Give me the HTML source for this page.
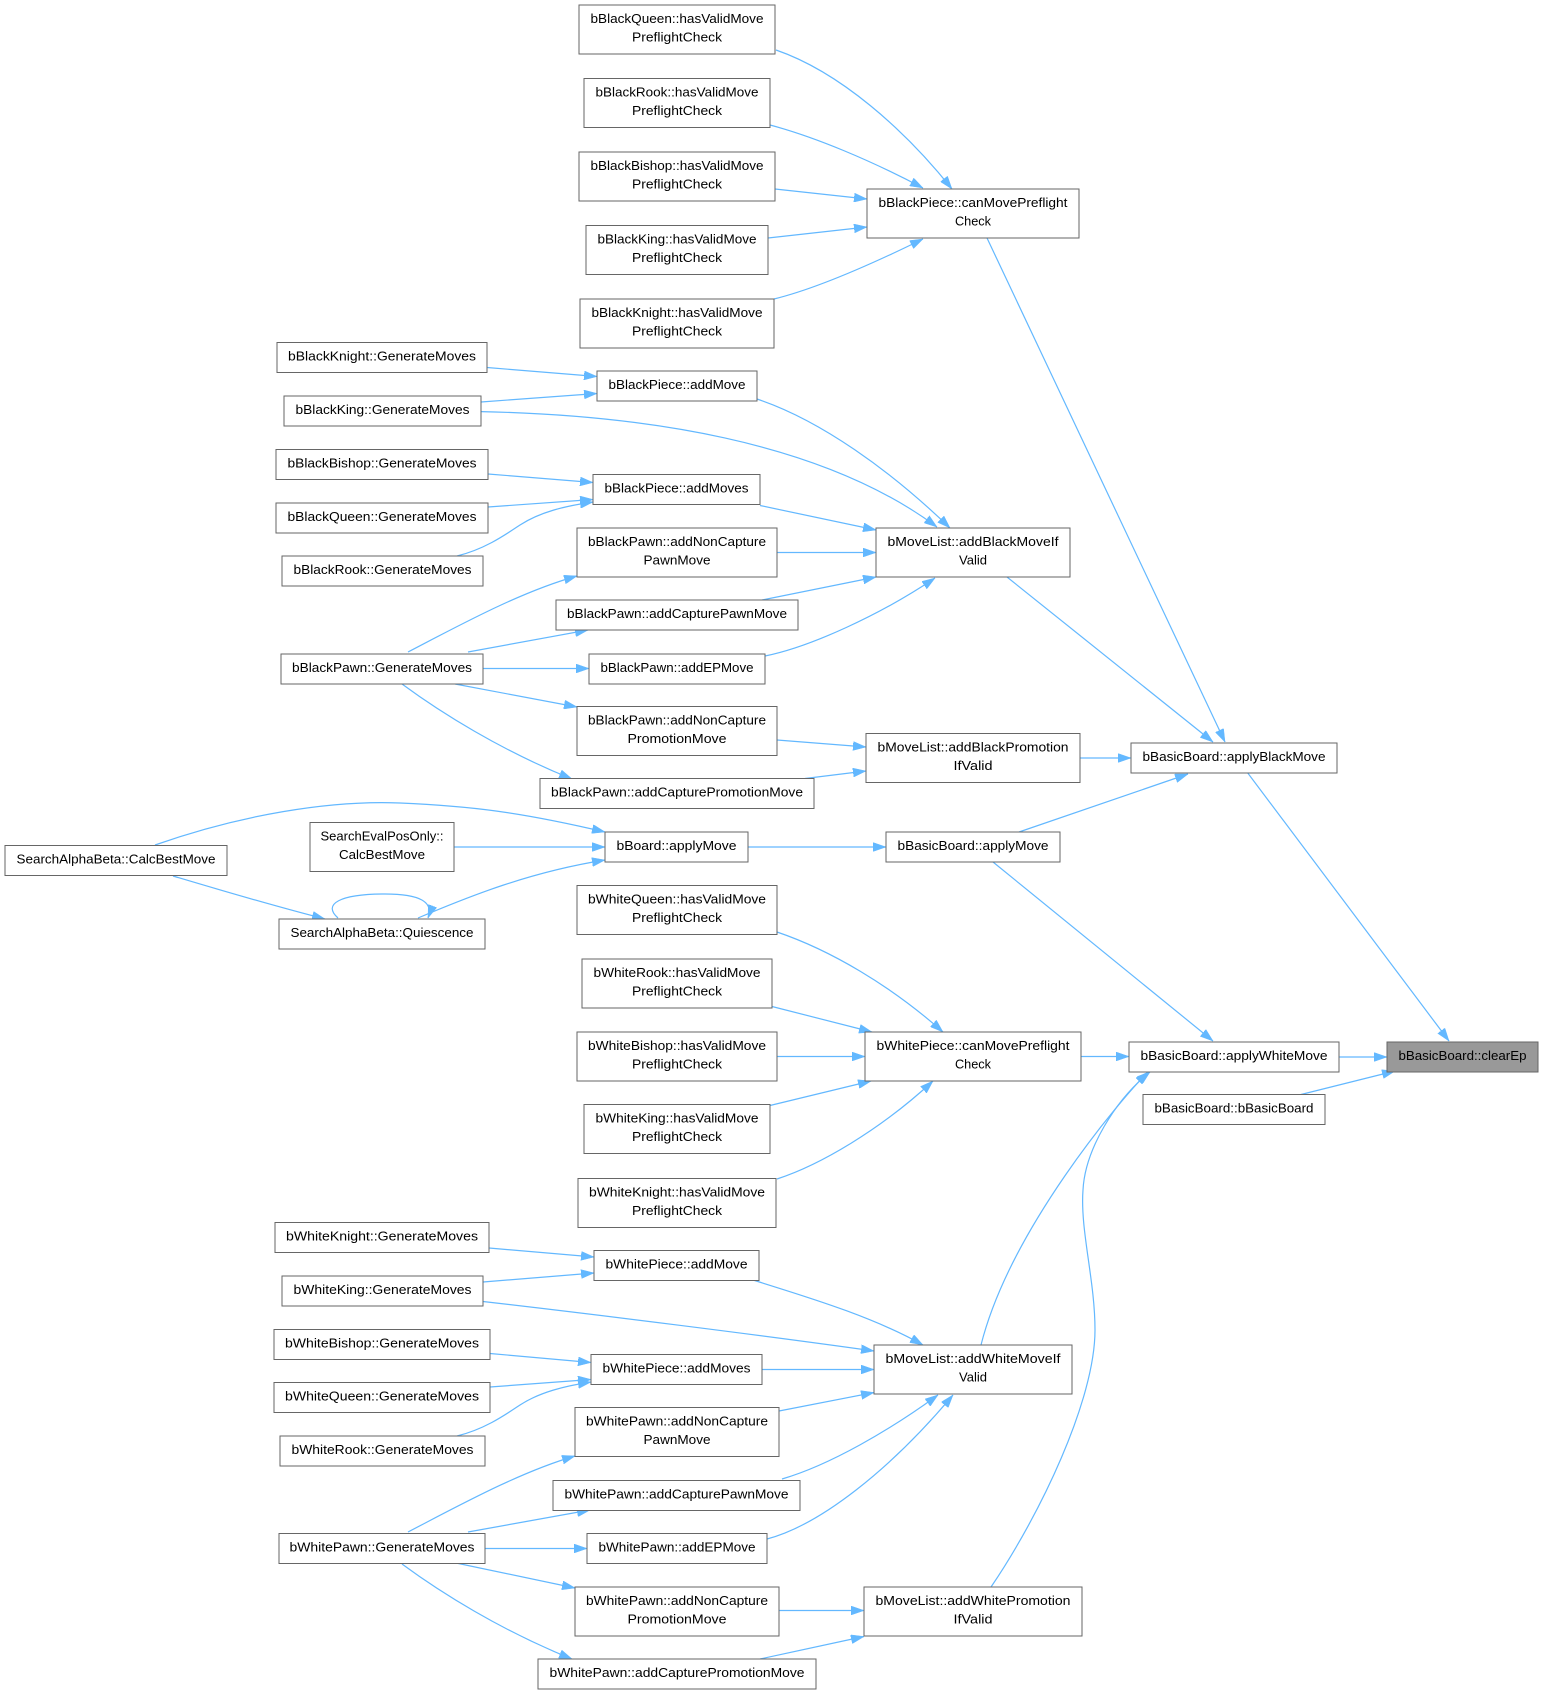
<!DOCTYPE html>
<html>
<head>
<meta charset="utf-8">
<style>
  html, body { margin:0; padding:0; background:#ffffff; }
  svg { display:block; }
  .n rect { fill:#ffffff; stroke:#666666; stroke-width:1; }
  .n text { font-family:"Liberation Sans", "DejaVu Sans", sans-serif; font-size:12.5px; fill:#000000; text-anchor:middle; }
  .e { fill:none; stroke:#63b8ff; stroke-width:1.2; marker-end:url(#ah); }
</style>
</head>
<body>
<svg width="1543" height="1694" viewBox="0 0 1543 1694" xmlns="http://www.w3.org/2000/svg">
<defs>
  <marker id="ah" viewBox="0 0 13 9" refX="13" refY="4.5" markerWidth="13" markerHeight="9" markerUnits="userSpaceOnUse" orient="auto">
    <path d="M0,0 L13,4.5 L0,9 z" fill="#63b8ff" stroke="#63b8ff" stroke-width="0.5"/>
  </marker>
</defs>
<rect x="0" y="0" width="1543" height="1694" fill="#ffffff"/>

<!-- ===== EDGES ===== -->
<g>
<!-- black preflight -->
<path class="e" d="M776,50 C840,72 905,130 952,189"/>
<path class="e" d="M770,125 C815,137 870,160 923,188"/>
<path class="e" d="M775,189 L867,199"/>
<path class="e" d="M768,238 L867,227"/>
<path class="e" d="M774,299 C815,289 870,265 923,239"/>
<!-- to applyBlackMove -->
<path class="e" d="M987,238 L1225,742"/>
<path class="e" d="M1007,577 L1213,742"/>
<path class="e" d="M1080,758 L1131,758"/>
<path class="e" d="M1019,832 L1188,774"/>
<!-- to clearEp -->
<path class="e" d="M1247,772 L1449,1041"/>
<path class="e" d="M1339,1057 L1387,1057"/>
<path class="e" d="M1301,1094.5 L1395,1071"/>
<!-- to applyWhiteMove -->
<path class="e" d="M993,862 L1213,1041"/>
<path class="e" d="M1081,1056.5 L1129,1056.5"/>
<path class="e" d="M981,1345 C1010,1230 1120,1100 1148,1072"/>
<path class="e" d="M991,1587 C1040,1515 1095,1400 1095,1330 C1095,1280 1080,1230 1083,1190 C1085,1150 1115,1100 1150,1072"/>
<!-- white preflight -->
<path class="e" d="M777,932 C830,950 890,985 943,1032"/>
<path class="e" d="M772,1006.5 L872,1032"/>
<path class="e" d="M777,1056.5 L865,1056.5"/>
<path class="e" d="M770,1105.5 L871,1081"/>
<path class="e" d="M777,1179 C820,1165 880,1130 933,1081"/>
<!-- black addMove / addMoves -->
<path class="e" d="M487,367.5 L597,376.5"/>
<path class="e" d="M481,402 L597,393.5"/>
<path class="e" d="M488,474 L593,482.5"/>
<path class="e" d="M488,507 L593,499.5"/>
<path class="e" d="M457,556 C485,549 505,535 520,525 C540,512 565,506 593,502"/>
<!-- into addBlackMoveIfValid -->
<path class="e" d="M757,399 C820,420 890,470 950,528"/>
<path class="e" d="M481,411.6 C640,415 820,440 937,527"/>
<path class="e" d="M760,505.5 L876,530"/>
<path class="e" d="M777,552.5 L876,552.5"/>
<path class="e" d="M762,600 L876,577"/>
<path class="e" d="M765,656 C810,647 880,615 935,578"/>
<!-- black pawn generate -->
<path class="e" d="M408,652 C460,625 520,592 577,576"/>
<path class="e" d="M468,652 L588,630"/>
<path class="e" d="M483,668.5 L589,668.5"/>
<path class="e" d="M455,684 L577,707"/>
<path class="e" d="M402,684 C440,712 500,750 572,779"/>
<!-- into addBlackPromotionIfValid -->
<path class="e" d="M777,740 L866,747"/>
<path class="e" d="M805,778.5 L866,771"/>
<!-- search -->
<path class="e" d="M155,845 C240,815 330,800 400,803 C470,806 520,812 605,832"/>
<path class="e" d="M454,847 L605,847"/>
<path class="e" d="M418,918 C470,896 530,872 605,860"/>
<path class="e" d="M173,876 C220,890 270,905 325,919"/>
<path class="e" d="M338,918 C322,904 340,894 385,894 C420,894 434,902 428,918"/>
<path class="e" d="M748,847 L886,847"/>
<!-- white addMove / addMoves -->
<path class="e" d="M489,1248 L594,1257"/>
<path class="e" d="M483,1282 L594,1273"/>
<path class="e" d="M490,1353.5 L591,1362.5"/>
<path class="e" d="M490,1387 L591,1379.5"/>
<path class="e" d="M457,1436 C485,1429 505,1415 520,1405 C540,1392 565,1386 591,1382"/>
<!-- into addWhiteMoveIfValid -->
<path class="e" d="M753,1280 C800,1295 870,1315 923,1345"/>
<path class="e" d="M483,1301.5 C600,1315 760,1335 874,1351"/>
<path class="e" d="M762,1369.5 L874,1369.5"/>
<path class="e" d="M779,1411 L874,1392.5"/>
<path class="e" d="M782,1479 C830,1465 890,1430 938,1395"/>
<path class="e" d="M767,1539 C820,1525 890,1470 953,1395"/>
<!-- into addWhitePromotionIfValid -->
<path class="e" d="M779,1610.5 L864,1610.5"/>
<path class="e" d="M760,1659 L864,1636.5"/>
<!-- white pawn generate -->
<path class="e" d="M408,1532 C460,1505 520,1472 575,1456"/>
<path class="e" d="M468,1532 L590,1510"/>
<path class="e" d="M485,1548.5 L587,1548.5"/>
<path class="e" d="M456,1563 L575,1588"/>
<path class="e" d="M402,1564 C440,1592 500,1630 572,1659"/>
</g>

<!-- ===== NODES ===== -->
<g class="n">
<rect x="579" y="5" width="196" height="49"/>
<text x="677" y="23" textLength="173" lengthAdjust="spacingAndGlyphs">bBlackQueen::hasValidMove</text>
<text x="677" y="41.5" textLength="90" lengthAdjust="spacingAndGlyphs">PreflightCheck</text>

<rect x="584" y="78.5" width="186" height="49"/>
<text x="677" y="96.5" textLength="163" lengthAdjust="spacingAndGlyphs">bBlackRook::hasValidMove</text>
<text x="677" y="115" textLength="90" lengthAdjust="spacingAndGlyphs">PreflightCheck</text>

<rect x="579" y="152" width="196" height="49"/>
<text x="677" y="170" textLength="173" lengthAdjust="spacingAndGlyphs">bBlackBishop::hasValidMove</text>
<text x="677" y="188.5" textLength="90" lengthAdjust="spacingAndGlyphs">PreflightCheck</text>

<rect x="586" y="225.5" width="182" height="49"/>
<text x="677" y="243.5" textLength="159" lengthAdjust="spacingAndGlyphs">bBlackKing::hasValidMove</text>
<text x="677" y="262" textLength="90" lengthAdjust="spacingAndGlyphs">PreflightCheck</text>

<rect x="580" y="299" width="194" height="49"/>
<text x="677" y="317" textLength="171" lengthAdjust="spacingAndGlyphs">bBlackKnight::hasValidMove</text>
<text x="677" y="335.5" textLength="90" lengthAdjust="spacingAndGlyphs">PreflightCheck</text>

<rect x="867" y="189" width="212" height="49"/>
<text x="973" y="207" textLength="189" lengthAdjust="spacingAndGlyphs">bBlackPiece::canMovePreflight</text>
<text x="973" y="225.5" textLength="36" lengthAdjust="spacingAndGlyphs">Check</text>

<rect x="277" y="342.5" width="210" height="30"/>
<text x="382" y="360.5" textLength="188" lengthAdjust="spacingAndGlyphs">bBlackKnight::GenerateMoves</text>

<rect x="597" y="371" width="160" height="30"/>
<text x="677" y="389" textLength="137" lengthAdjust="spacingAndGlyphs">bBlackPiece::addMove</text>

<rect x="284" y="396" width="197" height="30"/>
<text x="382.5" y="414" textLength="174" lengthAdjust="spacingAndGlyphs">bBlackKing::GenerateMoves</text>

<rect x="276" y="449.5" width="212" height="30"/>
<text x="382" y="467.5" textLength="189" lengthAdjust="spacingAndGlyphs">bBlackBishop::GenerateMoves</text>

<rect x="593" y="474.5" width="167" height="30"/>
<text x="676.5" y="492.5" textLength="144" lengthAdjust="spacingAndGlyphs">bBlackPiece::addMoves</text>

<rect x="276" y="503" width="212" height="30"/>
<text x="382" y="521" textLength="189" lengthAdjust="spacingAndGlyphs">bBlackQueen::GenerateMoves</text>

<rect x="577" y="528" width="200" height="49"/>
<text x="677" y="546" textLength="178" lengthAdjust="spacingAndGlyphs">bBlackPawn::addNonCapture</text>
<text x="677" y="564.5" textLength="67" lengthAdjust="spacingAndGlyphs">PawnMove</text>

<rect x="876" y="528" width="194" height="49"/>
<text x="973" y="546" textLength="171" lengthAdjust="spacingAndGlyphs">bMoveList::addBlackMoveIf</text>
<text x="973" y="564.5" textLength="28" lengthAdjust="spacingAndGlyphs">Valid</text>

<rect x="282" y="556" width="201" height="30"/>
<text x="382.5" y="574" textLength="178" lengthAdjust="spacingAndGlyphs">bBlackRook::GenerateMoves</text>

<rect x="556" y="600" width="242" height="30"/>
<text x="677" y="618" textLength="220" lengthAdjust="spacingAndGlyphs">bBlackPawn::addCapturePawnMove</text>

<rect x="281" y="654" width="202" height="30"/>
<text x="382" y="672" textLength="180" lengthAdjust="spacingAndGlyphs">bBlackPawn::GenerateMoves</text>

<rect x="589" y="654" width="176" height="30"/>
<text x="677" y="672" textLength="153" lengthAdjust="spacingAndGlyphs">bBlackPawn::addEPMove</text>

<rect x="577" y="706.5" width="200" height="49"/>
<text x="677" y="724.5" textLength="178" lengthAdjust="spacingAndGlyphs">bBlackPawn::addNonCapture</text>
<text x="677" y="743" textLength="99" lengthAdjust="spacingAndGlyphs">PromotionMove</text>

<rect x="866" y="733.5" width="214" height="49"/>
<text x="973" y="751.5" textLength="191" lengthAdjust="spacingAndGlyphs">bMoveList::addBlackPromotion</text>
<text x="973" y="770" textLength="39" lengthAdjust="spacingAndGlyphs">IfValid</text>

<rect x="1131" y="743" width="206" height="30"/>
<text x="1234" y="761" textLength="183" lengthAdjust="spacingAndGlyphs">bBasicBoard::applyBlackMove</text>

<rect x="540" y="778.5" width="274" height="30"/>
<text x="677" y="796.5" textLength="252" lengthAdjust="spacingAndGlyphs">bBlackPawn::addCapturePromotionMove</text>

<rect x="310" y="822.5" width="144" height="49"/>
<text x="382" y="840.5" textLength="123" lengthAdjust="spacingAndGlyphs">SearchEvalPosOnly::</text>
<text x="382" y="859" textLength="86" lengthAdjust="spacingAndGlyphs">CalcBestMove</text>

<rect x="605" y="832" width="143" height="30"/>
<text x="676.5" y="850" textLength="120" lengthAdjust="spacingAndGlyphs">bBoard::applyMove</text>

<rect x="886" y="832" width="174" height="30"/>
<text x="973" y="850" textLength="151" lengthAdjust="spacingAndGlyphs">bBasicBoard::applyMove</text>

<rect x="5" y="845.5" width="222" height="30"/>
<text x="116" y="863.5" textLength="199" lengthAdjust="spacingAndGlyphs">SearchAlphaBeta::CalcBestMove</text>

<rect x="577" y="885.5" width="200" height="49"/>
<text x="677" y="903.5" textLength="178" lengthAdjust="spacingAndGlyphs">bWhiteQueen::hasValidMove</text>
<text x="677" y="922" textLength="90" lengthAdjust="spacingAndGlyphs">PreflightCheck</text>

<rect x="279" y="919" width="206" height="30"/>
<text x="382" y="937" textLength="183" lengthAdjust="spacingAndGlyphs">SearchAlphaBeta::Quiescence</text>

<rect x="582" y="959" width="190" height="49"/>
<text x="677" y="977" textLength="167" lengthAdjust="spacingAndGlyphs">bWhiteRook::hasValidMove</text>
<text x="677" y="995.5" textLength="90" lengthAdjust="spacingAndGlyphs">PreflightCheck</text>

<rect x="577" y="1032" width="200" height="49"/>
<text x="677" y="1050" textLength="178" lengthAdjust="spacingAndGlyphs">bWhiteBishop::hasValidMove</text>
<text x="677" y="1068.5" textLength="90" lengthAdjust="spacingAndGlyphs">PreflightCheck</text>

<rect x="865" y="1032" width="216" height="49"/>
<text x="973" y="1050" textLength="193" lengthAdjust="spacingAndGlyphs">bWhitePiece::canMovePreflight</text>
<text x="973" y="1068.5" textLength="36" lengthAdjust="spacingAndGlyphs">Check</text>

<rect x="1129" y="1042" width="210" height="30"/>
<text x="1234" y="1060" textLength="187" lengthAdjust="spacingAndGlyphs">bBasicBoard::applyWhiteMove</text>

<rect x="1387" y="1042" width="151" height="30" style="fill:#999999"/>
<text x="1462.5" y="1060" textLength="128" lengthAdjust="spacingAndGlyphs">bBasicBoard::clearEp</text>

<rect x="1143" y="1094.5" width="182" height="30"/>
<text x="1234" y="1112.5" textLength="159" lengthAdjust="spacingAndGlyphs">bBasicBoard::bBasicBoard</text>

<rect x="584" y="1104.5" width="186" height="49"/>
<text x="677" y="1122.5" textLength="163" lengthAdjust="spacingAndGlyphs">bWhiteKing::hasValidMove</text>
<text x="677" y="1141" textLength="90" lengthAdjust="spacingAndGlyphs">PreflightCheck</text>

<rect x="578" y="1178.5" width="198" height="49"/>
<text x="677" y="1196.5" textLength="176" lengthAdjust="spacingAndGlyphs">bWhiteKnight::hasValidMove</text>
<text x="677" y="1215" textLength="90" lengthAdjust="spacingAndGlyphs">PreflightCheck</text>

<rect x="275" y="1222.5" width="214" height="30"/>
<text x="382" y="1240.5" textLength="192" lengthAdjust="spacingAndGlyphs">bWhiteKnight::GenerateMoves</text>

<rect x="594" y="1250.5" width="165" height="30"/>
<text x="676.5" y="1268.5" textLength="142" lengthAdjust="spacingAndGlyphs">bWhitePiece::addMove</text>

<rect x="282" y="1276" width="201" height="30"/>
<text x="382.5" y="1294" textLength="178" lengthAdjust="spacingAndGlyphs">bWhiteKing::GenerateMoves</text>

<rect x="274" y="1329.5" width="216" height="30"/>
<text x="382" y="1347.5" textLength="194" lengthAdjust="spacingAndGlyphs">bWhiteBishop::GenerateMoves</text>

<rect x="874" y="1345" width="198" height="49"/>
<text x="973" y="1363" textLength="175" lengthAdjust="spacingAndGlyphs">bMoveList::addWhiteMoveIf</text>
<text x="973" y="1381.5" textLength="28" lengthAdjust="spacingAndGlyphs">Valid</text>

<rect x="591" y="1354.5" width="171" height="30"/>
<text x="676.5" y="1372.5" textLength="148" lengthAdjust="spacingAndGlyphs">bWhitePiece::addMoves</text>

<rect x="274" y="1382.5" width="216" height="30"/>
<text x="382" y="1400.5" textLength="194" lengthAdjust="spacingAndGlyphs">bWhiteQueen::GenerateMoves</text>

<rect x="575" y="1407.5" width="204" height="49"/>
<text x="677" y="1425.5" textLength="182" lengthAdjust="spacingAndGlyphs">bWhitePawn::addNonCapture</text>
<text x="677" y="1444" textLength="67" lengthAdjust="spacingAndGlyphs">PawnMove</text>

<rect x="280" y="1436" width="205" height="30"/>
<text x="382.5" y="1454" textLength="182" lengthAdjust="spacingAndGlyphs">bWhiteRook::GenerateMoves</text>

<rect x="553" y="1480.5" width="247" height="30"/>
<text x="676.5" y="1498.5" textLength="224" lengthAdjust="spacingAndGlyphs">bWhitePawn::addCapturePawnMove</text>

<rect x="279" y="1533.5" width="206" height="30"/>
<text x="382" y="1551.5" textLength="185" lengthAdjust="spacingAndGlyphs">bWhitePawn::GenerateMoves</text>

<rect x="587" y="1533.5" width="180" height="30"/>
<text x="677" y="1551.5" textLength="157" lengthAdjust="spacingAndGlyphs">bWhitePawn::addEPMove</text>

<rect x="575" y="1587" width="204" height="49"/>
<text x="677" y="1605" textLength="182" lengthAdjust="spacingAndGlyphs">bWhitePawn::addNonCapture</text>
<text x="677" y="1623.5" textLength="99" lengthAdjust="spacingAndGlyphs">PromotionMove</text>

<rect x="864" y="1587" width="218" height="49"/>
<text x="973" y="1605" textLength="195" lengthAdjust="spacingAndGlyphs">bMoveList::addWhitePromotion</text>
<text x="973" y="1623.5" textLength="39" lengthAdjust="spacingAndGlyphs">IfValid</text>

<rect x="538" y="1659" width="278" height="30"/>
<text x="677" y="1677" textLength="255" lengthAdjust="spacingAndGlyphs">bWhitePawn::addCapturePromotionMove</text>
</g>
</svg>
</body>
</html>
